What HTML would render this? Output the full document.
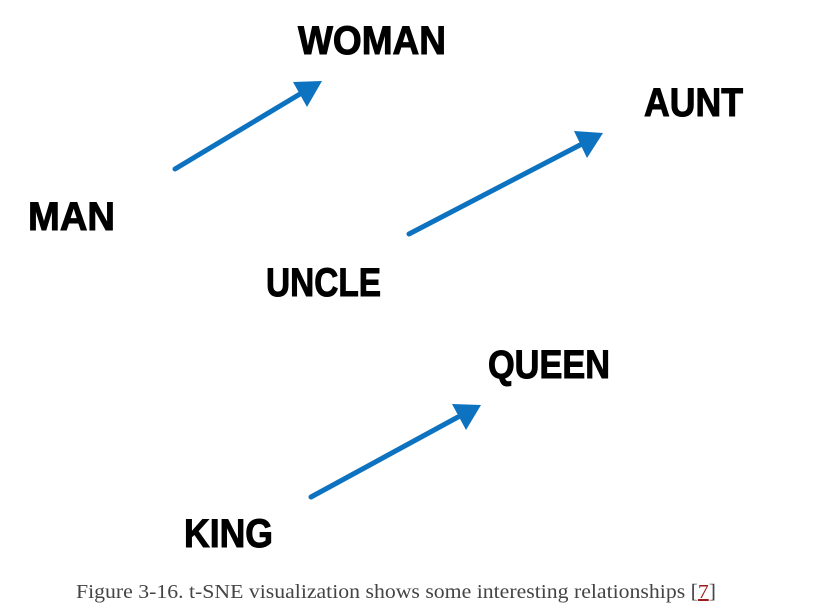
<!DOCTYPE html>
<html><head><meta charset="utf-8"><style>
html,body{margin:0;padding:0;background:#fff;}
svg{display:block;}
</style></head><body>
<svg width="826" height="616" viewBox="0 0 826 616" xmlns="http://www.w3.org/2000/svg">
<g font-family="'Liberation Sans Narrow','Liberation Sans',sans-serif" font-weight="bold" font-size="40" fill="#000" stroke="#000" stroke-width="1">
<text x="298" y="54" textLength="148" lengthAdjust="spacingAndGlyphs">WOMAN</text>
<text x="28" y="230" textLength="87" lengthAdjust="spacingAndGlyphs">MAN</text>
<text x="644" y="116" textLength="99" lengthAdjust="spacingAndGlyphs">AUNT</text>
<text x="266" y="296" textLength="115" lengthAdjust="spacingAndGlyphs">UNCLE</text>
<text x="488" y="378" textLength="122" lengthAdjust="spacingAndGlyphs">QUEEN</text>
<text x="184" y="547" textLength="89" lengthAdjust="spacingAndGlyphs">KING</text>
</g>
<g stroke="#0d72bf" stroke-width="5" stroke-linecap="round" fill="none">
<line x1="175" y1="169" x2="300" y2="94"/>
<line x1="409" y1="234" x2="580" y2="145"/>
<line x1="311" y1="497" x2="458" y2="417"/>
</g>
<g fill="#0d72bf">
<polygon points="322,81 293,82 307,107"/>
<polygon points="603,133 574,131 587,158"/>
<polygon points="481,405 452,404 466,430"/>
</g>
<text x="76" y="598" font-family="'Liberation Serif',serif" font-size="20" fill="#444" textLength="640" lengthAdjust="spacingAndGlyphs">Figure 3-16. t-SNE visualization shows some interesting relationships [<tspan fill="#9b1c1c" text-decoration="underline">7</tspan>]</text>
</svg>
</body></html>
